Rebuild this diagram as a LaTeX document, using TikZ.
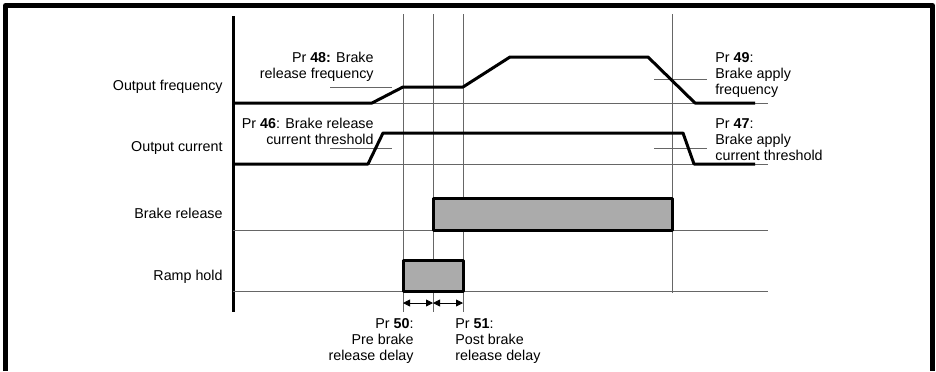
\documentclass[tikz,border=0pt]{standalone}
\usepackage{fontspec}
\setmainfont{Liberation Sans}
\usetikzlibrary{arrows.meta}
\begin{document}
\begin{tikzpicture}[x=0.5pt,y=-0.5pt, font=\fontsize{7.15}{8}\selectfont, line join=round, >={Triangle[length=3.5pt,width=3.5pt]},
		trace/.style={line width=1.5pt},
		gridline/.style={line width=0.5pt,black!60},
		lbl/.style={inner sep=0pt}]
			\useasboundingbox (0,0) rectangle (936,371);
			\def\tA{403}\def\tB{433}\def\tC{463}\def\tD{672}
			\def\yF{103}\def\yI{164}\def\yB{230}\def\yR{291}
			\draw[line width=2.5pt] (5.5,371)--(5.5,5.5)--(932.5,5.5)--(932.5,371);
			\draw[line width=1.5pt] (233,16)--(233,312);
			\foreach \y in {\yF,\yI,\yB,\yR}\draw[gridline] (233,\y)--(768,\y);
			\foreach \x in {\tA,\tB,\tC}\draw[gridline] (\x,14)--(\x,312);
			\draw[gridline] (\tD,14)--(\tD,293);
			% thresholds
			\draw[gridline] (330,87)--(392,87);
			\draw[gridline] (330,148)--(392,148);
			\draw[gridline] (654,79)--(707,79);
			\draw[gridline] (654,148)--(707,148);
			% traces
			\draw[trace] (233,\yF)--(372,\yF)--(\tA,87)--(\tC,87)--(510,57)--(648,57)--(695,\yF)--(755,\yF);
			\draw[trace] (233,\yI)--(368,\yI)--(383,133)--(683,133)--(694,\yI)--(755,\yI);
			\draw[trace,fill=black!33] (\tB,198) rectangle (\tD,\yB);
			\draw[trace,fill=black!33] (\tA,260) rectangle (\tC,\yR);
			% delays
			\coordinate (dA) at (\tA,303);
			\coordinate (dB) at (\tB,303);
			\coordinate (dC) at (\tC,303);
			\draw[<->] (dA)--(dB);
			\draw[<->] (dB)--(dC);
			% labels
			\node[lbl,anchor=east] (lfreq) at (223,87) {Output frequency};
			\node[lbl,anchor=east] (lcur) at (223,148) {Output current};
			\node[lbl,anchor=east] (lbrake) at (223,213) {Brake release};
			\node[lbl,anchor=east] (lramp) at (223,277) {Ramp hold};
			\node[lbl,anchor=east,align=right] (p48) at (374,66.5) {Pr \textbf{48:} Brake\\release frequency};
			\node[lbl,anchor=east,align=right] (p46) at (374,131) {Pr \textbf{46}: Brake release\\current threshold};
			\node[lbl,anchor=west,align=left] (p49) at (715,75) {Pr \textbf{49}:\\Brake apply\\frequency};
			\node[lbl,anchor=west,align=left] (p47) at (715,140) {Pr \textbf{47}:\\Brake apply\\current threshold};
			\node[lbl,anchor=east,align=right] (p50) at (414,341) {Pr \textbf{50}:\\Pre brake\\release delay};
			\node[lbl,anchor=west,align=left] (p51) at (455,341) {Pr \textbf{51}:\\Post brake\\release delay};
		\end{tikzpicture}
\end{document}
